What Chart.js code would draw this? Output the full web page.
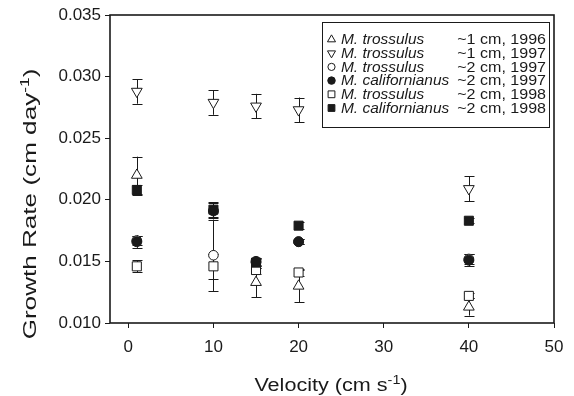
<!DOCTYPE html>
<html>
<head>
<meta charset="utf-8">
<script src="https://cdn.jsdelivr.net/npm/chart.js@4/dist/chart.umd.min.js"></script>
<style>
  html, body { margin: 0; padding: 0; background: #fff; }
  #wrap { width: 574px; height: 396px; }
</style>
</head>
<body>
<div id="wrap"><canvas id="c" width="574" height="396"></canvas></div>
<script>
// ---- data ----
const velocity = [1, 10, 15, 20, 40];
const xTicks = [0, 10, 20, 30, 40, 50];
const yTicks = [0.010, 0.015, 0.020, 0.025, 0.030, 0.035];

const legendSpecies = ["M. trossulus", "M. trossulus", "M. trossulus", "M. californianus", "M. trossulus", "M. californianus"];
const legendGroups = ["~1 cm, 1996", "~1 cm, 1997", "~2 cm, 1997", "~2 cm, 1997", "~2 cm, 1998", "~2 cm, 1998"];

const trossulus1cm1996 = [0.0220, null, 0.0133, 0.0130, 0.0113];
const trossulus1cm1996Err = [0.0015, null, 0.0012, 0.0013, 0.0007];
const trossulus1cm1997 = [0.0288, 0.0279, 0.0276, 0.0273, 0.0209];
const trossulus1cm1997Err = [0.0010, 0.0010, 0.0010, 0.0010, 0.0010];
const trossulus2cm1997 = [0.0167, 0.0155, 0.0149, 0.0166, 0.0152];
const trossulus2cm1997Err = [0.0004, 0.0029, 0.0003, 0.0002, 0.0004];
const californianus2cm1997 = [0.0166, 0.0191, 0.0150, 0.0166, 0.0151];
const californianus2cm1997Err = [0.0005, 0.0006, 0.0003, 0.0002, 0.0005];
const trossulus2cm1998 = [0.0146, 0.0146, 0.0143, 0.0141, 0.0122];
const trossulus2cm1998Err = [0.0005, 0.0010, 0.0003, 0.0003, 0.0002];
const californianus2cm1998 = [0.0208, 0.0192, 0.0149, 0.0179, 0.0183];
const californianus2cm1998Err = [0.0004, 0.0006, 0.0004, 0.0003, 0.0002];

// ---- styles ----
const INK = '#1a1a1a';
const seriesDefs = [
  { vals: trossulus1cm1996, err: trossulus1cm1996Err, style: 'triangle', rot: 0, r: 6.2, fill: '#fff', order: 2 },
  { vals: trossulus1cm1997, err: trossulus1cm1997Err, style: 'triangle', rot: 180, r: 6.2, fill: '#fff', order: 2 },
  { vals: trossulus2cm1997, err: trossulus2cm1997Err, style: 'circle', rot: 0, r: 4.8, fill: '#fff', order: 3 },
  { vals: californianus2cm1997, err: californianus2cm1997Err, style: 'circle', rot: 0, r: 5, fill: INK, order: 0 },
  { vals: trossulus2cm1998, err: trossulus2cm1998Err, style: 'rect', rot: 0, r: 6.4, fill: '#fff', order: 2 },
  { vals: californianus2cm1998, err: californianus2cm1998Err, style: 'rect', rot: 0, r: 6.4, fill: INK, order: 1 }
];

function pointsOf(vals, errs) {
  const out = [];
  velocity.forEach((x, i) => { if (vals[i] != null) out.push({ x: x, y: vals[i], e: errs[i] }); });
  return out;
}

const datasets = seriesDefs.map((s, i) => ({
  label: legendSpecies[i] + ' ' + legendGroups[i],
  data: pointsOf(s.vals, s.err),
  pointStyle: s.style,
  pointRotation: s.rot,
  pointRadius: s.r,
  pointBackgroundColor: s.fill,
  pointBorderColor: INK,
  pointBorderWidth: 1,
  showLine: false,
  order: s.order
}));

function stretchText(ctx, text, x, y, font, sx, align) {
  ctx.save();
  ctx.font = font;
  ctx.translate(x, y);
  ctx.scale(sx, 1);
  ctx.textAlign = align || 'left';
  ctx.fillText(text, 0, 0);
  ctx.restore();
}

const errorBars = {
  id: 'errorBars',
  beforeDatasetsDraw(chart) {
    const ctx = chart.ctx, ys = chart.scales.y, xs = chart.scales.x;
    ctx.save();
    ctx.strokeStyle = INK;
    ctx.lineWidth = 1;
    chart.data.datasets.forEach(ds => {
      ds.data.forEach(p => {
        if (p.e == null) return;
        const px = Math.round(xs.getPixelForValue(p.x)) + 0.5;
        const y1 = ys.getPixelForValue(p.y + p.e);
        const y2 = ys.getPixelForValue(p.y - p.e);
        ctx.beginPath();
        ctx.moveTo(px, y1); ctx.lineTo(px, y2);
        ctx.moveTo(px - 5, Math.round(y1) + 0.5); ctx.lineTo(px + 5, Math.round(y1) + 0.5);
        ctx.moveTo(px - 5, Math.round(y2) + 0.5); ctx.lineTo(px + 5, Math.round(y2) + 0.5);
        ctx.stroke();
      });
    });
    ctx.restore();
  }
};

const frameAndText = {
  id: 'frameAndText',
  afterDraw(chart) {
    const ctx = chart.ctx, a = chart.chartArea;
    ctx.save();
    // frame
    ctx.strokeStyle = INK;
    ctx.lineWidth = 1.6;
    ctx.strokeRect(a.left, a.top, a.right - a.left, a.bottom - a.top);

    ctx.fillStyle = INK;
    // x title
    const xf = '18px "Liberation Sans", Arial, sans-serif';
    const sf = '12px "Liberation Sans", Arial, sans-serif';
    const sx = 1.2;
    ctx.font = xf;
    const xa = ctx.measureText('Velocity (cm s').width * sx;
    ctx.font = sf;
    const xb = ctx.measureText('-1').width * sx;
    ctx.font = xf;
    const xc = ctx.measureText(')').width * sx;
    const xw = xa + xb + xc;
    let x0 = 331 - xw / 2;
    const by = 391;
    stretchText(ctx, 'Velocity (cm s', x0, by, xf, sx);
    stretchText(ctx, '-1', x0 + xa, by - 7, sf, sx);
    stretchText(ctx, ')', x0 + xa + xb, by, xf, sx);

    // y title (rotated)
    ctx.save();
    ctx.translate(36, 204);
    ctx.rotate(-Math.PI / 2);
    const yf = '18px "Liberation Sans", Arial, sans-serif';
    const ysf = '12px "Liberation Sans", Arial, sans-serif';
    const ysx = 1.45;
    ctx.font = yf;
    const ya = ctx.measureText('Growth Rate (cm day').width * ysx;
    ctx.font = ysf;
    const yb = ctx.measureText('-1').width * ysx;
    ctx.font = yf;
    const yc = ctx.measureText(')').width * ysx;
    const yw = ya + yb + yc;
    const y0 = -yw / 2;
    stretchText(ctx, 'Growth Rate (cm day', y0, 0, yf, ysx);
    stretchText(ctx, '-1', y0 + ya, -7, ysf, ysx);
    stretchText(ctx, ')', y0 + ya + yb, 0, yf, ysx);
    ctx.restore();

    // legend
    const L = 322, T = 22, R = 549, B = 127;
    ctx.fillStyle = '#fff';
    ctx.fillRect(L, T, R - L, B - T);
    ctx.strokeStyle = INK;
    ctx.lineWidth = 1;
    ctx.strokeRect(L + 0.5, T + 0.5, R - L, B - T);
    const lf = 'italic 15px "Liberation Sans", Arial, sans-serif';
    const lg = '15px "Liberation Sans", Arial, sans-serif';
    seriesDefs.forEach((s, i) => {
      const cy = 39.5 + i * 13.7;
      ctx.fillStyle = s.fill;
      ctx.strokeStyle = INK;
      ctx.lineWidth = 1;
      Chart.helpers.drawPoint(ctx, { pointStyle: s.style, rotation: s.rot, radius: s.r * 0.75, borderWidth: 1 }, 331.5, cy);
      ctx.fillStyle = INK;
      ctx.textBaseline = 'middle';
      stretchText(ctx, legendSpecies[i], 341, cy + 0.5, lf, 1.03, 'left');
      stretchText(ctx, legendGroups[i], 546, cy + 0.5, lg, 1.07, 'right');
    });
    ctx.restore();
  }
};

new Chart(document.getElementById('c'), {
  type: 'scatter',
  data: { datasets: datasets },
  options: {
    responsive: false,
    devicePixelRatio: 1,
    animation: false,
    layout: { padding: { top: 15, right: 20, left: 0, bottom: 0 } },
    plugins: { legend: { display: false }, tooltip: { enabled: false } },
    scales: {
      x: {
        type: 'linear',
        min: -2.15,
        max: 50,
        afterBuildTicks: s => { s.ticks = xTicks.map(v => ({ value: v })); },
        afterFit: s => { s.height = 73; },
        border: { display: false },
        grid: { drawOnChartArea: false, drawTicks: true, tickLength: 5, color: INK, lineWidth: 1 },
        ticks: { color: INK, padding: 9, maxRotation: 0, font: { family: '"Liberation Sans", Arial, sans-serif', size: 17 }, callback: v => String(v) }
      },
      y: {
        type: 'linear',
        min: 0.010,
        max: 0.035,
        afterBuildTicks: s => { s.ticks = yTicks.map(v => ({ value: v })); },
        afterFit: s => { s.width = 110; },
        border: { display: false },
        grid: { drawOnChartArea: false, drawTicks: true, tickLength: 5, color: INK, lineWidth: 1 },
        ticks: { color: INK, padding: 4, font: { family: '"Liberation Sans", Arial, sans-serif', size: 17 }, callback: v => Number(v).toFixed(3) }
      }
    }
  },
  plugins: [errorBars, frameAndText]
});
</script>
</body>
</html>
